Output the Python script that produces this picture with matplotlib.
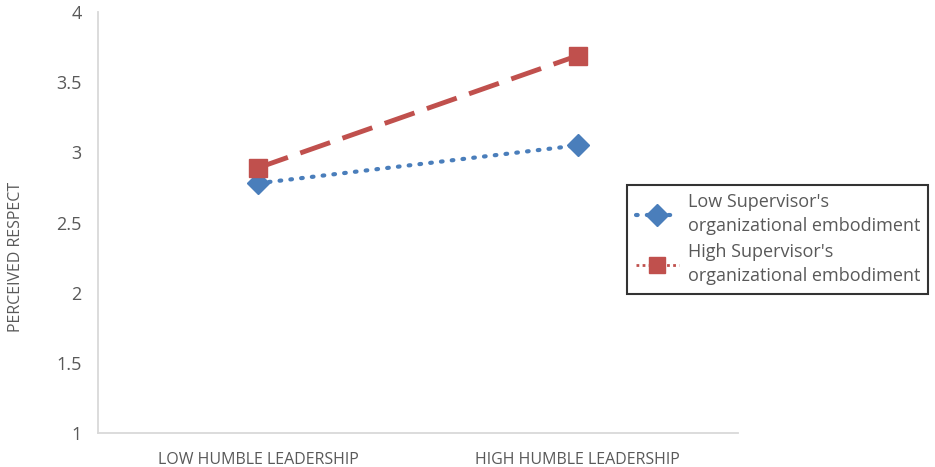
import matplotlib.pyplot as plt
from matplotlib.lines import Line2D

# data
categories = ['LOW HUMBLE LEADERSHIP', 'HIGH HUMBLE LEADERSHIP']
low_embodiment = [2.78, 3.05]
high_embodiment = [2.89, 3.69]
series_labels = ["Low Supervisor's\norganizational embodiment",
                 "High Supervisor's\norganizational embodiment"]
y_ticks = [1, 1.5, 2, 2.5, 3, 3.5, 4]

blue = '#4a7ebb'
red = '#c0504d'
grey_text = '#595959'

plt.rcParams['font.family'] = ['Open Sans', 'DejaVu Sans']

fig = plt.figure(figsize=(9.35, 4.67), dpi=100)
ax = fig.add_axes([0.105, 0.073, 0.684, 0.901])

x = [0.25, 0.75]
ax.plot(x, low_embodiment, color=blue, lw=3, linestyle=(0, (0.4, 2.2)),
        dash_capstyle='round', marker='D', markersize=11, zorder=3)
ax.plot(x, high_embodiment, color=red, lw=3.5, linestyle=(0, (6.5, 2.7)),
        marker='s', markersize=13, zorder=3)

ax.set_xlim(0, 1)
ax.set_ylim(1, 4)
ax.set_yticks(y_ticks)
ax.set_yticklabels([f'{t:g}' for t in y_ticks], fontsize=13, color=grey_text)
ax.set_xticks(x)
ax.set_xticklabels(categories, fontsize=11.5, color=grey_text)
ax.tick_params(length=0, pad=12)
ax.tick_params(axis='x', pad=14)

for side in ['top', 'right']:
    ax.spines[side].set_visible(False)
for side in ['left', 'bottom']:
    ax.spines[side].set_color('#d9d9d9')
    ax.spines[side].set_linewidth(1.3)

fig.text(0.017, 0.45, 'PERCEIVED RESPECT', rotation=90, fontsize=11.5,
         color=grey_text, ha='center', va='center')

handles = [
    Line2D([], [], color=blue, lw=3, linestyle=(0, (0.4, 2.2)),
           dash_capstyle='round', marker='D', markersize=11),
    Line2D([], [], color=red, lw=2, linestyle=(0, (1, 1.2)),
           marker='s', markersize=12),
]
leg = fig.legend(handles, series_labels, loc='center left',
                 bbox_to_anchor=(0.671, 0.488), fontsize=13,
                 frameon=True, fancybox=False, handlelength=2.4,
                 labelspacing=0.45, borderpad=0.45, handletextpad=0.5,
                 borderaxespad=0)
leg.get_frame().set_edgecolor('black')
leg.get_frame().set_linewidth(1.5)
for t in leg.get_texts():
    t.set_color(grey_text)
    t.set_linespacing(1.45)

fig.savefig('out.png', dpi=100)
